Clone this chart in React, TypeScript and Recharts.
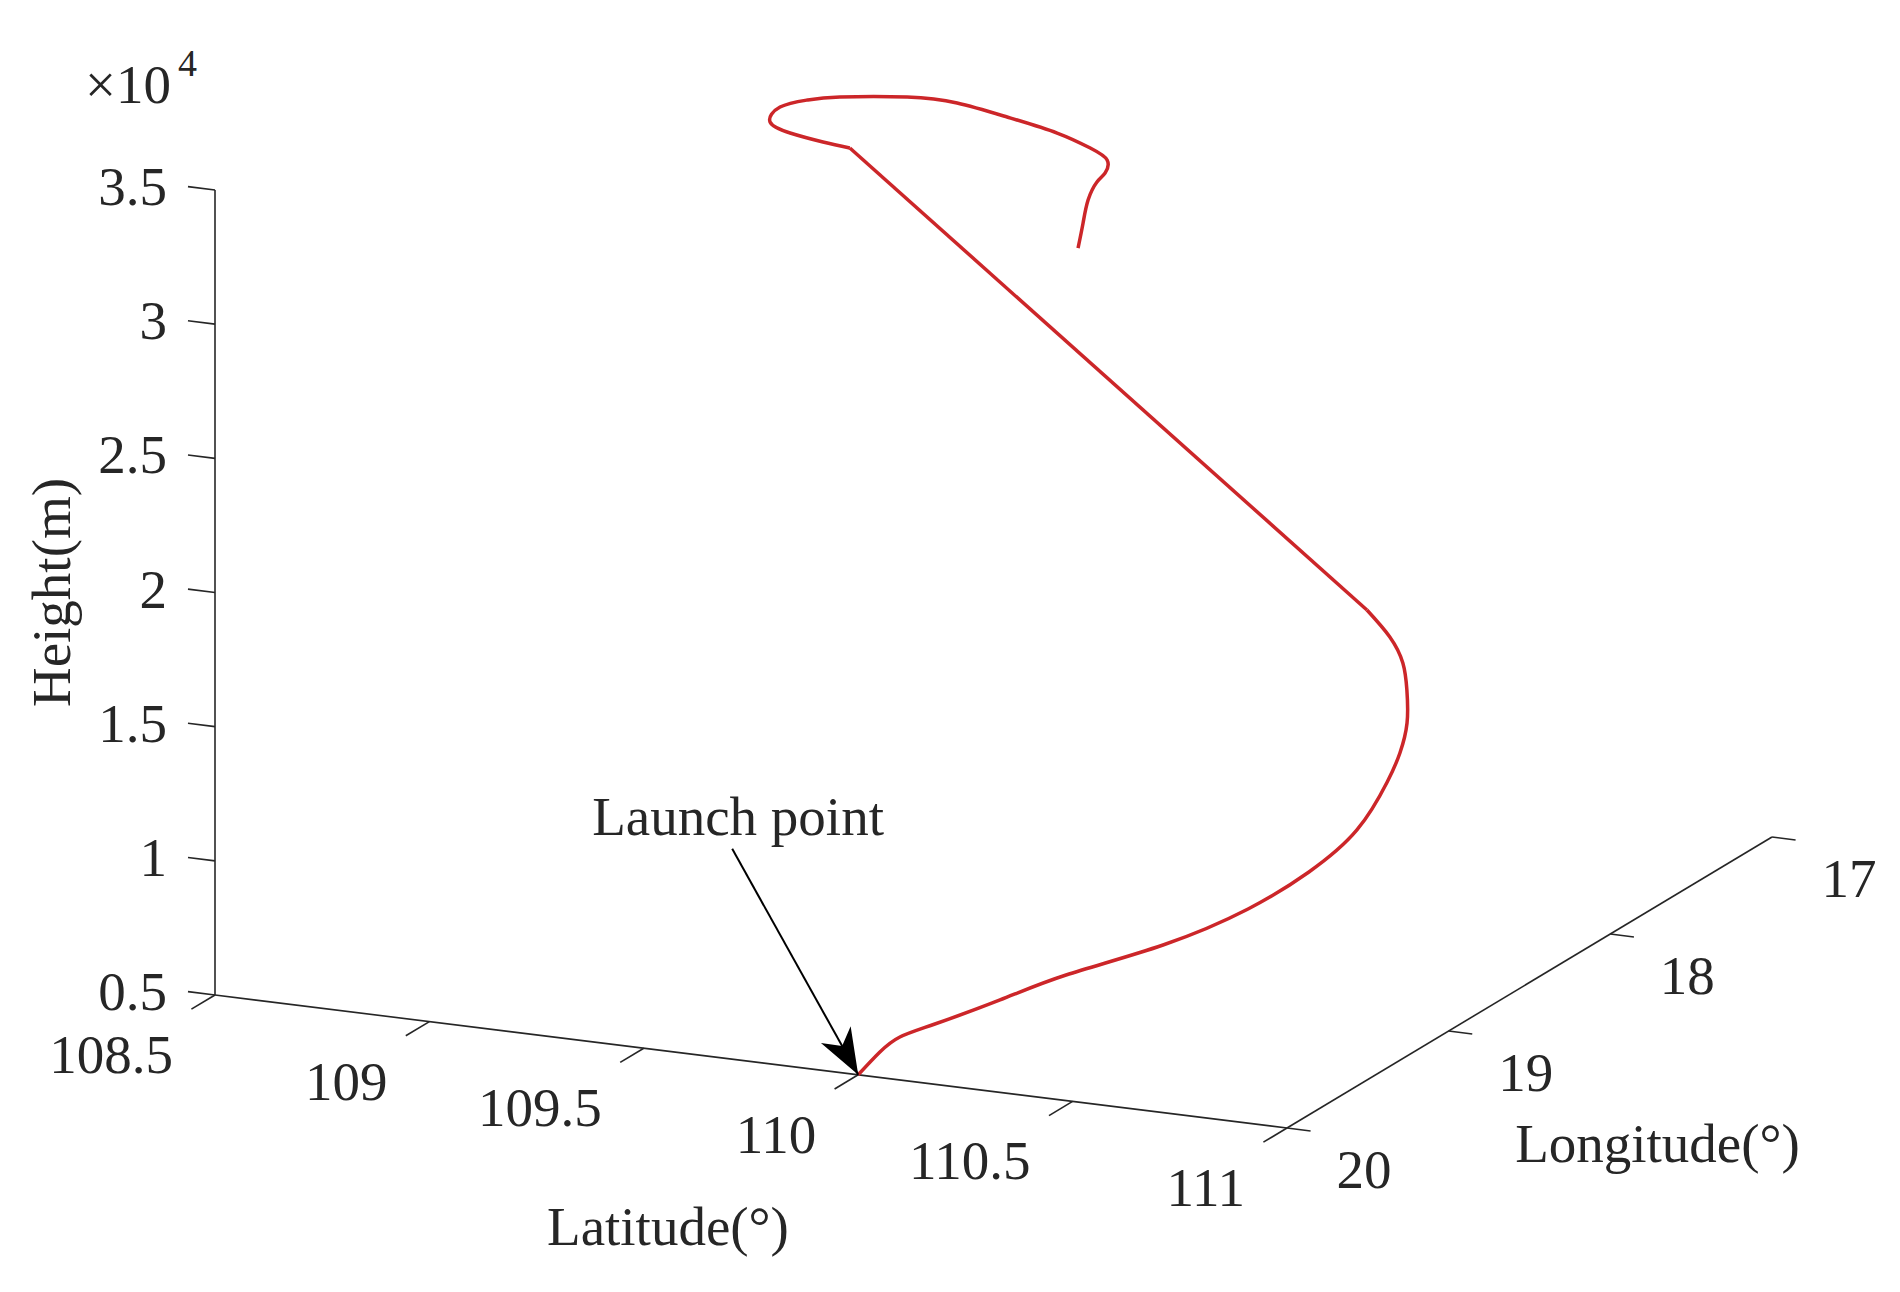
import { Scatter, ScatterChart, XAxis, YAxis } from "recharts"

const W = 1900
const H = 1292

const latTicks = [108.5, 109, 109.5, 110, 110.5, 111]
const lonTicks = [20, 19, 18, 17]
const heightTicks = [0.5, 1, 1.5, 2, 2.5, 3, 3.5] // x10^4 m

// trajectory: latitude (deg), longitude (deg), height (m)
const trajLat = [
  110.0, 110.028, 110.052, 110.111, 110.229, 110.349, 110.53, 110.683, 110.791,
  110.869, 110.917, 110.924, 110.918, 110.895, 110.863, 110.81, 110.734,
  109.415, 109.341, 109.253, 109.195, 109.207, 109.259, 109.324, 109.458,
  109.552, 109.646, 109.74, 109.806, 109.834, 109.818, 109.799, 109.767,
  109.744, 109.721,
]
const trajLon = [
  20.0, 19.94, 19.88, 19.82, 19.73, 19.64, 19.52, 19.4, 19.31, 19.22, 19.16,
  19.1, 19.04, 18.98, 18.92, 18.86, 18.8, 18.5, 18.47, 18.44, 18.41, 18.38,
  18.35, 18.32, 18.26, 18.2, 18.14, 18.08, 18.05, 18.02, 17.99, 17.99, 17.96,
  17.93, 17.9,
]
const trajHeight = [
  5000, 5689, 6079, 6463, 7266, 8110, 9153, 10364, 11632, 13027, 14692, 15571,
  16460, 17428, 18154, 18802, 19440, 32957, 32925, 32977, 33164, 33638, 33893,
  34027, 34075, 33820, 33268, 32641, 32104, 31605, 30980, 30608, 29764, 28753,
  27667,
]
const CLIMB_END = 16 // end of the curved climb
const TURN_START = 17 // start of the turn at altitude

const INK = "#262626"
const RED = "#cc2629"
const FONT = '"Liberation Serif", "Times New Roman", serif'
const FS = 55

const LAT0 = 108.5
const LAT1 = 111
const LON0 = 20
const LON1 = 17
const H0 = 5000
const H1 = 35000

// the 3d view as a linear map onto the page plane
const origin = [215, 995]
const latDir = [1072, 133]
const lonDir = [485, -291]
const upDir = [0, -805]

function project(lat: number, lon: number, h: number) {
  const a = (lat - LAT0) / (LAT1 - LAT0)
  const b = (lon - LON0) / (LON1 - LON0)
  const c = (h - H0) / (H1 - H0)
  return {
    x: origin[0] + a * latDir[0] + b * lonDir[0] + c * upDir[0],
    y: origin[1] + a * latDir[1] + b * lonDir[1] + c * upDir[1],
  }
}

const path = trajLat.map((lat, i) => project(lat, trajLon[i], trajHeight[i]))
const climb = path.slice(0, CLIMB_END + 1)
const glide = path.slice(CLIMB_END, TURN_START + 1)
const turn = path.slice(TURN_START)

const axes = [
  [project(LAT0, LON0, H0), project(LAT1, LON0, H0)],
  [project(LAT1, LON0, H0), project(LAT1, LON1, H0)],
  [project(LAT0, LON0, H0), project(LAT0, LON0, H1)],
]
const ticks = [
  ...latTicks.map((v) => [project(v, LON0, H0), project(v, LON0 + 0.146, H0)]),
  ...lonTicks.map((v) => [project(LAT1, v, H0), project(LAT1 + 0.055, v, H0)]),
  ...heightTicks.map((v) => [
    project(LAT0, LON0, v * 1e4),
    project(LAT0 - 0.063, LON0, v * 1e4),
  ]),
]

const latLabels = latTicks.map((v) => ({ ...project(v, LON0, H0), text: String(v) }))
const lonLabels = lonTicks.map((v) => ({ ...project(LAT1, v, H0), text: String(v) }))
const heightLabels = heightTicks.map((v) => ({
  ...project(LAT0, LON0, v * 1e4),
  text: String(v),
}))

const tip = path[0]
const ARROW = { dx: -126, dy: -226 }
const arrow = [{ x: tip.x + ARROW.dx, y: tip.y + ARROW.dy }, tip]

const none = () => <g />

const label = (dx: number, dy: number, anchor: "start" | "middle" | "end") => (p: any) => (
  <text
    x={p.cx + dx}
    y={p.cy + dy}
    textAnchor={anchor}
    fontSize={FS}
    fontFamily={FONT}
    fill={INK}
  >
    {p.payload.text}
  </text>
)

const ArrowHead = (p: any) => {
  const len = Math.hypot(ARROW.dx, ARROW.dy)
  const ux = -ARROW.dx / len
  const uy = -ARROW.dy / len
  const bx = p.cx - 46 * ux
  const by = p.cy - 46 * uy
  const nx = p.cx - 33 * ux
  const ny = p.cy - 33 * uy
  const pts = [
    [p.cx, p.cy],
    [bx - 17 * uy, by + 17 * ux],
    [nx, ny],
    [bx + 17 * uy, by - 17 * ux],
  ]
  return <polygon points={pts.map((q) => q.join(",")).join(" ")} fill="#000" />
}

export default function App() {
  return (
    <div style={{ width: W, height: H, background: "#fff" }}>
      <style>{"body{margin:0}"}</style>
      <ScatterChart width={W} height={H} margin={{ top: 0, right: 0, bottom: 0, left: 0 }}>
        <XAxis type="number" dataKey="x" domain={[0, W]} allowDataOverflow hide height={0} />
        <YAxis
          type="number"
          dataKey="y"
          domain={[0, H]}
          allowDataOverflow
          reversed
          hide
          width={0}
        />
        {axes.map((seg, i) => (
          <Scatter
            key={`axis-${i}`}
            data={seg}
            line={{ stroke: INK, strokeWidth: 1.6 }}
            shape={none}
            isAnimationActive={false}
          />
        ))}
        {ticks.map((seg, i) => (
          <Scatter
            key={`tick-${i}`}
            data={seg}
            line={{ stroke: INK, strokeWidth: 1.6 }}
            shape={none}
            isAnimationActive={false}
          />
        ))}
        <Scatter data={heightLabels} shape={label(-48, 15, "end")} isAnimationActive={false} />
        <Scatter data={latLabels} shape={label(-42, 78, "end")} isAnimationActive={false} />
        <Scatter data={lonLabels} shape={label(77, 60, "middle")} isAnimationActive={false} />

        {/* axis titles */}
        <Scatter
          data={[{ ...project((LAT0 + LAT1) / 2, LON0, H0), text: "Latitude(°)" }]}
          shape={label(-83, 183, "middle")}
          isAnimationActive={false}
        />
        <Scatter
          data={[{ ...project(LAT1, (LON0 + LON1) / 2, H0), text: "Longitude(°)" }]}
          shape={label(128, 179, "middle")}
          isAnimationActive={false}
        />
        <Scatter
          data={[project(LAT0, LON0, (H0 + H1) / 2)]}
          shape={(p: any) => (
            <text
              x={p.cx - 145}
              y={p.cy}
              transform={`rotate(-90 ${p.cx - 145} ${p.cy})`}
              textAnchor="middle"
              fontSize={FS}
              fontFamily={FONT}
              fill={INK}
            >
              Height(m)
            </text>
          )}
          isAnimationActive={false}
        />
        <Scatter
          data={[project(LAT0, LON0, H1)]}
          shape={(p: any) => (
            <g fontFamily={FONT} fill={INK}>
              <text x={p.cx - 130} y={p.cy - 87} fontSize={FS}>
                ×10
              </text>
              <text x={p.cx - 37} y={p.cy - 114} fontSize={38}>
                4
              </text>
            </g>
          )}
          isAnimationActive={false}
        />

        {/* trajectory */}
        <Scatter
          data={climb}
          line={{ stroke: RED, strokeWidth: 3.5 }}
          lineJointType="natural"
          shape={none}
          isAnimationActive={false}
        />
        <Scatter
          data={glide}
          line={{ stroke: RED, strokeWidth: 3.5 }}
          shape={none}
          isAnimationActive={false}
        />
        <Scatter
          data={turn}
          line={{ stroke: RED, strokeWidth: 3.5 }}
          lineJointType="natural"
          shape={none}
          isAnimationActive={false}
        />

        {/* launch point annotation */}
        <Scatter
          data={arrow}
          line={{ stroke: "#000", strokeWidth: 2 }}
          shape={none}
          isAnimationActive={false}
        />
        <Scatter data={[tip]} shape={ArrowHead} isAnimationActive={false} />
        <Scatter
          data={[{ ...tip, text: "Launch point" }]}
          shape={label(-266, -240, "start")}
          isAnimationActive={false}
        />
      </ScatterChart>
    </div>
  )
}
